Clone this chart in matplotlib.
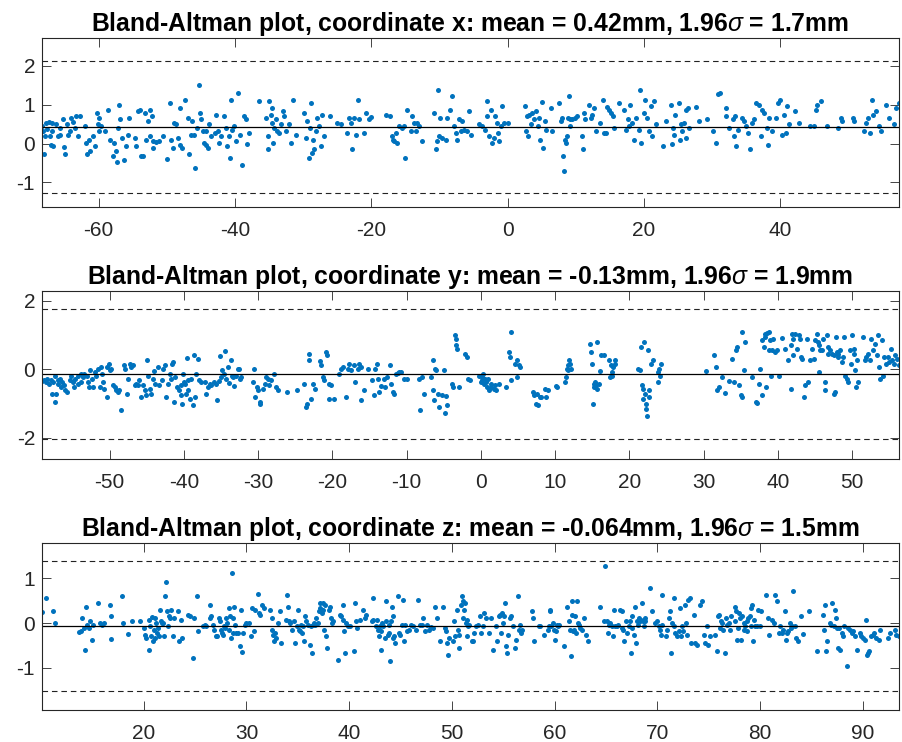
import matplotlib
matplotlib.use('Agg')
import matplotlib.pyplot as plt

plt.rcParams['font.family'] = ['Liberation Sans', 'DejaVu Sans']
plt.rcParams['mathtext.fontset'] = 'custom'
plt.rcParams['mathtext.rm'] = 'Liberation Sans'
plt.rcParams['mathtext.it'] = 'Liberation Sans:italic'
plt.rcParams['axes.unicode_minus'] = False

# ---- coordinate x ----
x1 = [-68.3, -68.0, -68.1, -67.9, -67.7, -67.5, -67.3, -67.2, -67.0, -66.9, -66.7, -66.8,
      -66.2, -66.0, -65.7, -65.6, -65.2, -65.1, -64.9, -64.7, -64.5, -64.2, -64.0, -63.8, -63.5, -63.3, -63.0, -62.8,
      -62.0, -61.9, -61.7, -61.4, -61.2, -60.8, -60.6, -60.3, -60.1, -59.95, -59.9, -59.6, -59.1,
      -58.6, -58.4, -57.9, -57.7, -57.5, -57.3, -57.2, -57.0, -56.8, -56.5, -56.3, -56.0, -55.7, -55.6,
      -54.7, -54.5, -54.2, -54.0, -53.8, -53.5, -53.2, -53.0, -52.8, -52.5, -52.4, -52.1, -52.0, -51.95, -51.6, -51.1,
      -50.6, -49.9, -49.6, -49.4, -49.1, -48.9, -48.6, -48.4, -48.1, -48.0, -47.8, -47.4,
      -46.9, -46.7, -46.5, -46.3, -45.95, -45.8, -45.6, -45.3, -45.2, -45.0, -44.7, -44.6, -44.3, -44.2,
      -44.0, -43.8, -43.5, -43.0, -42.8, -42.5, -42.3, -42.0, -41.6, -41.3, -41.2, -40.9, -40.8, -40.6, -40.4,
      -40.1, -39.9, -39.5, -39.3, -39.0, -38.6, -38.4, -38.2, -37.9,
      -36.4, -35.5, -35.2, -35.1, -35.0, -34.7, -34.6, -34.5, -34.4, -34.2, -34.0, -33.8, -33.5, -33.3, -33.0, -32.8, -32.5,
      -32.0, -31.8, -31.5, -31.1, -29.9, -29.6, -29.4, -29.2, -29.0, -28.9, -28.7, -28.6, -28.4, -28.1, -27.9, -27.7, -27.4, -27.2, -26.9,
      -26.0, -25.0, -24.5, -23.5, -23.3, -23.0, -22.8, -22.5, -22.3, -22.0, -21.8, -21.1, -20.8, -20.4, -20.1,
      -17.9, -17.2, -16.9, -16.8, -16.6, -16.4, -16.2, -16.0, -15.5, -15.2, -15.0, -14.7, -14.2, -14.0, -13.8,
      -13.5, -13.3, -13.0, -12.5, -10.8, -10.5, -10.3, -10.2, -10.0, -9.9, -9.6, -9.1, -8.9,
      -8.4, -8.1, -7.9, -7.6, -7.4, -7.1, -6.9, -6.7, -6.4, -5.9, -5.6, -5.4,
      -4.2, -3.7, -3.3, -3.1, -3.0, -2.7, -2.5, -2.3, -2.0, -1.8, -1.6, -1.4, -1.2, -1.0, -0.8, -0.5, 0.0,
      2.6, 2.7, 2.9, 3.0, 3.2, 3.4, 3.6, 3.9, 4.1, 4.4, 4.6, 4.8, 5.1, 5.2, 5.5, 5.7,
      6.3, 6.5, 7.5, 7.8, 8.0, 8.1, 8.3, 8.4, 8.5, 8.7, 8.9, 9.0, 9.1, 9.2, 9.5, 9.9, 10.2,
      10.9, 11.0, 11.2, 11.4, 11.9, 12.2, 12.4, 12.7, 12.9, 13.6, 14.0, 14.1, 14.4, 14.6, 14.9, 15.1, 15.4, 15.6, 16.3,
      17.1, 17.3, 17.6, 17.8, 18.0, 18.3, 18.5, 18.9, 19.2, 19.4, 19.5, 20.0, 20.2, 20.5, 20.7, 21.0, 21.2, 21.4, 21.7,
      22.8, 23.2, 23.9, 24.1, 24.2, 24.4, 24.6, 25.1, 25.3, 25.4, 25.6, 25.9, 26.1, 26.2, 26.4, 26.6, 27.7, 28.1, 29.3,
      30.1, 30.5, 30.8, 31.2, 32.0, 32.1, 32.5, 33.0, 33.2, 33.4, 33.5, 33.8,
      34.4, 34.7, 34.9, 35.2, 35.6, 35.9, 36.1, 36.5, 36.9, 37.1, 37.3, 37.6, 38.1, 38.2, 38.3,
      38.8, 39.3, 39.6, 40.0, 40.3, 40.5, 40.8, 41.0, 41.3, 42.2, 42.7,
      44.4, 44.9, 45.2, 45.4, 45.9, 46.9, 48.4, 48.9, 49.1,
      50.6, 50.8, 52.3, 52.5, 52.8, 53.1, 53.4, 53.6, 54.0, 54.5, 54.7, 55.5, 55.9, 56.7, 56.9, 57.4]
d1 = [0.44, -0.27, 0.32, 0.19, 0.53, 0.38, 0.55, 0.19, -0.03, 0.53, -0.07, 0.32,
      0.51, 0.19, 0.23, 0.40, 0.62, -0.09, -0.28, 0.49, 0.23, 0.32, 0.66, 0.55, 0.40, 0.70, 0.19, 0.70,
      0.46, 0.02, -0.28, 0.10, -0.20, 0.19, -0.07, 0.79, 0.49, 0.32, 0.66, 0.44, 0.32,
      0.85, 0.10, -0.32, 0.02, -0.20, -0.48, 0.40, 1.00, 0.62, 0.15, -0.41, -0.07, 0.23, 0.66,
      0.15, -0.07, 0.83, 0.87, -0.32, -0.32, 0.79, 0.10, 0.57, 0.19, 0.87, 0.70, -0.11, 0.06, 0.03, 0.06,
      0.19, -0.39, 1.04, 0.10, -0.11, 0.53, 0.49, 0.15, 0.91, -0.03, -0.11, 1.13,
      0.66, -0.28, 0.23, 0.57, 0.23, -0.62, 0.40, 1.51, 0.79, 0.62, 0.32, 0.02, -0.03, 0.32,
      -0.11, 0.49, 0.19, 0.27, 0.74, 0.32, 0.02, 0.19, 0.70, 0.40, -0.07, 0.19, -0.37, 1.13, 0.36,
      0.44, 0.06, 1.30, 0.23, -0.54, 0.70, 0.62, 0.0, 0.27,
      1.09, 0.66, 0.19, -0.15, 1.09, 0.74, 0.53, 0.91, 0.02, 0.40, 0.62, 0.32, 0.27, 0.49, 0.83, 0.70, 0.32,
      0.49, 0.02, 1.13, 0.23, 0.79, 0.15, 0.57, -0.37, 0.40, 1.04, -0.24, 0.10, -0.15, 0.32, 0.66, 0.44, -0.07, 0.74, 0.19,
      0.70, 0.53, 0.49, 0.27, 0.66, 0.53, -0.14, 0.66, 0.23, 1.13, 0.62, 0.27, 0.79, 0.62, 0.68,
      0.74, 0.70, 0.19, 0.10, 0.06, 0.27, 0.02, 0.44, 0.40, 0.46, -0.37, 0.87, 0.32, 0.70, 0.53,
      0.32, 0.53, 0.44, 0.06, 0.79, -0.15, 0.06, 1.38, 0.19, 0.66, 0.15, 0.10, 0.66,
      0.87, 1.21, 0.44, 0.27, 0.10, 0.62, 0.32, 0.57, 0.36, 0.32, 0.83, 0.23,
      0.49, 0.44, 0.36, 1.09, 0.70, 0.19, 0.87, 0.02, 0.15, 0.70, 0.53, 0.27, 0.06, 0.44, 0.96, 0.53, 0.53,
      0.97, 0.32, 0.70, 0.19, 0.74, 0.49, 0.79, 0.62, 0.83, 0.44, 0.66, 0.10, 1.06, -0.11, 0.57, 0.36,
      0.91, 0.32, 1.03, 0.57, 0.66, -0.32, -0.71, 0.10, 0.02, 0.19, 0.66, 1.21, 0.62, 0.44, 0.64, 0.66, 0.70,
      0.19, -0.15, 0.79, 0.62, 1.00, 0.66, 0.74, 0.91, 0.32, 0.53, 1.13, 0.27, 0.27, 0.94, 0.87, 0.79, 0.70, 0.40, 1.04,
      0.87, 0.36, 0.62, 0.44, 1.00, 0.53, 0.10, 0.66, 0.36, 1.38, 0.02, 0.79, 1.13, 0.66, 0.32, 0.96, 0.19, 1.10, 0.49,
      -0.07, 0.57, 1.00, 0.0, 0.40, 0.23, 0.74, 1.04, 0.10, 0.49, 0.32, 0.53, 0.87, 0.15, 0.91, 0.40, 0.94, 0.57, 0.64,
      0.32, 0.02, 1.26, 1.30, 0.91, 0.70, 0.40, 0.62, 0.19, 0.70, -0.07, 0.36,
      0.66, 0.57, 0.44, 0.27, -0.15, 0.53, 0.62, 1.04, 1.00, 0.19, 0.87, 0.79, 0.40, -0.03, 0.66,
      0.32, 0.66, 1.04, 1.13, 0.23, 0.74, 0.27, 0.96, 0.49, 0.83, 0.53,
      0.44, 0.44, 0.87, 1.00, 1.09, 0.46, 0.40, 0.66, 0.57,
      0.66, 0.57, 0.32, 0.53, 0.66, 0.27, 1.13, 0.74, 0.83, 0.44, 0.32, 1.00, 0.66, 0.49, 0.91, 1.04]

# ---- coordinate y ----
x2 = [-59.1, -58.8, -58.6, -58.4, -58.2, -57.9, -57.8, -57.6, -57.4, -57.3, -57.2, -57.0, -56.95, -56.7, -56.6, -56.4, -56.1, -56.05, -55.8,
      -55.4, -55.2, -54.9, -54.8, -54.6, -54.3, -54.2, -53.9, -53.8, -53.6, -53.4, -53.1, -52.9, -52.8, -52.6, -52.4, -52.2, -52.0,
      -51.8, -51.6, -51.3, -51.2, -51.0, -50.9, -50.7, -50.4, -50.3, -50.1, -50.0, -49.8, -49.6, -49.3, -49.1, -48.9, -48.7, -48.4,
      -48.1, -47.9, -47.6, -47.5, -47.3, -47.1, -46.9, -46.6, -46.4, -46.2, -46.1, -45.8, -45.5, -45.3, -45.1, -44.9, -44.8, -44.6,
      -44.4, -44.2, -44.0, -43.9, -43.5, -43.3, -43.0, -42.8, -42.6, -42.4, -42.2, -41.9, -41.7, -41.6, -41.5, -41.3, -41.2, -40.9,
      -40.6, -40.45, -40.4, -40.3, -40.1, -40.0, -39.8, -39.7, -39.6, -39.5, -39.4, -39.2, -39.0, -38.8, -38.7, -38.5, -38.3, -38.1, -37.9, -37.7,
      -37.2, -37.0, -36.8, -36.5, -36.3, -35.9, -35.7, -35.5, -35.3, -35.2, -35.0, -34.8, -34.6, -34.4, -34.3, -34.1, -33.9, -33.7, -33.5, -33.4, -33.2, -33.0, -32.7, -32.6, -32.4, -32.3,
      -30.7, -30.5, -30.4, -30.1, -30.0, -29.8, -29.7, -29.4, -29.1, -28.9, -28.7, -28.5, -28.3, -27.8, -27.6, -27.3,
      -26.1, -24.8, -23.8, -23.5, -23.4, -23.2, -23.1, -22.9, -22.6, -22.4, -21.7, -21.5, -21.3, -21.1, -20.9, -20.7, -20.5, -20.4, -20.2, -19.8,
      -19.1, -18.8, -18.6, -18.2, -17.9, -17.7, -17.5, -17.1, -17.0, -16.6, -16.4, -16.2, -16.1, -15.8, -15.2,
      -14.6, -14.4, -14.2, -14.0, -13.9, -13.7, -13.5, -13.1, -12.9, -12.6, -12.3, -12.1, -11.9, -11.7, -11.4, -11.2, -11.0, -10.8, -10.3, -9.9,
      -8.3, -8.2, -7.9, -7.7, -6.7, -6.5, -6.4, -6.3, -6.2, -6.1, -5.8, -5.7, -5.2, -5.0, -4.8, -4.7, -4.5,
      -3.9, -3.7, -3.5, -3.4, -3.3, -3.2, -3.0, -2.1, -1.9, -1.7, -1.4,
      -0.2, 0.0, 0.1, 0.2, 0.3, 0.4, 0.5, 0.7, 0.8, 1.0, 1.1, 1.3, 1.4, 1.7, 1.9, 2.1, 2.5,
      3.4, 3.8, 3.9, 4.0, 4.1, 4.6, 4.8, 4.9, 5.1, 5.3,
      7.0, 7.2, 7.4, 7.6, 7.7, 7.9, 8.1, 8.6, 8.8, 9.0,
      10.1, 10.2, 11.3, 11.5, 11.6, 11.7, 11.8, 11.9, 12.0, 12.2,
      14.7, 14.8, 15.0, 15.1, 15.2, 15.3, 15.4, 15.5, 15.6, 15.7, 15.9, 16.0, 16.2, 16.6, 17.3, 17.4, 17.5, 17.65, 17.7, 17.8, 18.0, 18.1,
      21.1, 21.4, 21.5, 21.7, 21.8, 21.9, 22.0, 22.1, 22.2, 22.3, 22.4, 22.5, 22.6, 22.7, 22.9, 23.2, 23.8, 23.9, 24.0, 24.1, 24.2,
      30.3, 31.4, 31.6, 31.8, 32.1, 32.5, 32.9, 33.4, 33.8, 34.1, 34.3, 34.5, 34.7, 35.0, 35.1, 35.2, 35.4, 35.6,
      36.5, 37.0, 37.2, 37.4, 37.6, 37.8, 37.9, 38.1, 38.2, 38.3, 38.4, 38.5, 38.75, 38.8, 39.0, 39.1, 39.2, 39.4, 39.6, 39.9, 40.1, 40.5,
      41.0, 41.4, 41.7, 41.8, 41.9, 42.0, 42.1, 42.3, 42.6, 42.8, 43.0, 43.1, 43.3, 43.5, 43.7, 43.9, 44.1, 44.3, 44.6, 44.8, 45.0,
      45.2, 45.4, 45.5, 45.6, 45.7, 45.9, 46.1, 46.3, 46.4, 46.6, 46.7, 46.8, 47.0, 47.3, 47.5, 47.6, 47.7, 47.8, 47.9, 48.05, 48.1, 48.4, 48.6, 48.8, 48.9, 49.0, 49.3, 49.4,
      49.7, 49.9, 50.0, 50.2, 50.3, 50.4, 50.5, 50.6, 50.8, 51.5, 51.7, 51.9, 52.1, 52.4, 52.6, 52.8, 53.1, 53.3, 53.5, 53.6, 53.7, 54.0, 54.2, 54.3, 54.5, 54.8, 54.9, 55.2, 55.4, 55.7, 55.8, 56.1, 56.3]
d2 = [-0.34, -0.32, -0.37, -0.27, -0.42, -0.30, -0.71, -0.37, -0.20, -0.96, -0.71, -0.32, -0.42, -0.27, -0.52, -0.37, -0.47, -0.61, -0.66,
      -0.32, -0.20, -0.37, -0.52, -0.27, -0.42, -0.18, -0.37, -0.13, -0.22, -0.13, -0.18, -0.37, -0.52, -0.03, -0.27, -0.52, -0.08,
      -0.18, 0.02, -0.52, 0.07, -0.13, -0.37, -0.57, -0.81, 0.07, 0.17, -0.03, 0.02, -0.47, -0.52, -0.61, -0.66, -0.61, -1.18,
      0.12, 0.02, -0.71, -0.27, 0.17, 0.07, 0.12, -0.47, -0.42, -0.47, -0.32, -0.81, -0.47, -0.61, -0.76, 0.28, -0.20, -0.57,
      -0.71, -0.27, -0.05, -0.42, 0.07, -0.47, -0.32, 0.02, 0.12, -0.81, -0.42, -0.13, -0.27, 0.17, 0.21, -0.96, -0.22, -0.52,
      -0.61, -0.47, -0.76, -1.00, -0.13, -0.37, -0.42, -0.71, 0.34, -0.32, -0.61, -0.86, -0.27, -1.05, 0.41, -0.81, -0.13, 0.31, -0.32, -0.37,
      -0.37, -0.71, -0.52, -0.42, -0.47, -0.37, -0.42, -0.91, -0.34, 0.38, -0.22, -0.03, -0.13, 0.54, -0.27, 0.07, -0.40, 0.28, -0.18, -0.22, -0.50, -0.18, 0.02, 0.02, -0.27, -0.22,
      -0.37, 0.02, -0.81, -0.52, -0.61, -0.96, -1.00, -0.57, -0.42, -0.22, -0.27, -0.47, -0.32, -0.13, -0.52, -0.59,
      -0.66, -0.61, -0.42, -1.10, -1.00, 0.26, 0.44, -0.86, -0.42, -0.57, 0.24, 0.12, -0.22, -0.32, 0.51, 0.41, -0.42, -0.86, -0.47, -0.86,
      -0.13, 0.02, 0.07, -0.81, 0.02, 0.17, -0.03, 0.12, -0.37, 0.02, 0.17, -0.91, 0.07, -0.61, 0.02,
      -0.32, -0.76, 0.02, 0.17, -0.27, -0.66, -0.50, -0.27, -0.52, -0.22, 0.12, -0.42, -0.66, -0.71, -0.13, -0.11, -0.08, -0.08, -0.27, -0.27,
      -0.27, -1.20, -0.22, -0.71, -0.22, 0.26, -0.61, -0.91, 0.02, -0.03, -0.71, -1.10, -0.76, -0.03, -1.28, -0.79, -1.05,
      -0.42, -0.52, 1.00, 0.90, 0.70, 0.60, -0.52, 0.46, 0.36, -0.27, -0.32,
      -0.18, -0.37, -0.22, -0.32, -0.15, -0.42, -0.27, -0.37, -0.52, -0.27, -0.61, -0.42, -0.52, -0.57, -0.47, -0.61, -0.42,
      -0.52, 0.51, 0.36, 1.09, -0.32, 0.17, -0.22, 0.26, 0.12, 0.07,
      -0.66, -0.76, -1.00, -0.71, -1.05, -0.81, -0.81, -0.57, -0.81, -0.61,
      -0.50, -0.52, -0.37, -0.22, 0.02, 0.12, -0.03, 0.26, 0.17, 0.02,
      0.75, 0.51, 0.17, -1.00, -0.42, -0.52, -0.37, -0.47, -0.57, 0.80, -0.42, -0.05, 0.41, 0.41, 0.26, -0.22, 0.12, -0.08, -0.18, 0.07, 0.17, 0.26,
      0.02, -0.03, 0.65, -0.47, -0.57, -0.86, 0.80, -0.71, -1.15, -1.00, -1.35, 0.56, -0.61, -0.81, 0.17, 0.26, -0.08, -0.37, 0.02, -0.18, 0.17,
      -0.05, 0.41, 0.07, -0.61, -0.52, -0.22, -0.69, -0.34, 0.31, -0.37, 0.56, 0.65, -0.47, -0.76, -0.81, 1.09, -0.03, 0.80,
      -0.22, -0.96, -0.99, -0.42, 0.02, -0.76, 0.85, 0.65, 1.04, 0.95, -0.52, 1.06, 0.56, 1.09, 0.85, -0.18, 0.56, 0.90, 0.51, 0.56, -0.18, 0.93,
      0.60, 0.26, -0.57, 0.70, 1.04, 0.90, 0.41, 1.04, 0.60, 1.00, 0.90, 0.36, 0.31, -0.81, -0.47, 0.90, -0.37, 0.26, 0.60, 0.31, 0.85,
      1.04, 0.80, -0.08, 0.70, 0.56, 0.56, 0.90, -0.61, -0.37, 1.00, 0.46, 0.65, 0.56, 0.46, -0.71, 0.41, -0.66, 0.95, 0.51, 0.36, 0.46, 0.56, 0.21, 0.36, 0.95, -0.18, -0.27, -0.37,
      0.56, 0.17, 1.00, 0.60, 0.46, -0.03, -0.52, 0.26, -0.37, 0.95, 0.26, 0.36, 0.46, 0.26, 0.90, 0.56, 0.75, 0.41, 1.00, 0.07, -0.27, 0.85, -0.18, 0.36, 0.17, 0.36, 0.21, 0.60, 0.26, 0.17, 0.41, 0.31, 0.12]

# ---- coordinate z ----
x3 = [10.1, 10.5, 11.2, 11.4,
      13.7, 13.9, 14.0, 14.2, 14.3, 14.4, 14.5, 14.7, 14.8, 15.0, 15.1, 15.5, 15.7, 15.9, 16.1,
      16.7, 16.8, 16.85, 17.9, 18.0, 18.5, 18.9, 19.6,
      20.0, 20.1, 20.2, 20.5, 20.55, 20.6, 20.7, 20.8, 20.9, 21.0, 21.05, 21.1, 21.2, 21.3, 21.4, 21.5, 21.6, 21.7, 21.8, 21.9, 21.95, 22.1, 22.2, 22.3, 22.4, 22.45, 22.6, 22.7, 22.8, 22.9,
      23.3, 23.4, 23.6, 23.7, 24.3, 24.5, 24.8, 24.9, 25.2, 25.3, 25.8, 26.0, 26.1,
      26.4, 26.45, 26.5, 26.7, 26.8, 27.0, 27.1, 27.3, 27.4, 27.5, 27.6, 27.7, 27.8, 27.9, 28.0, 28.1, 28.25, 28.3, 28.4, 28.5, 28.6, 28.65, 28.7, 28.8, 28.9, 29.0, 29.2, 29.4, 29.45,
      29.6, 29.7, 29.9, 30.0, 30.2, 30.4, 30.5, 30.7, 30.8, 31.1, 31.2, 31.3, 31.5, 31.7,
      32.3, 32.45, 32.5, 32.6, 32.7, 32.8, 32.9, 33.1, 33.3, 33.4, 33.8, 33.9, 34.0, 34.1, 34.2, 34.4, 34.6,
      34.7, 34.9, 35.0, 35.1, 35.2, 35.3, 35.4, 35.5, 35.6, 35.7, 35.8, 36.0, 36.2, 36.3, 36.4, 36.5, 36.6, 36.7, 36.8, 37.0, 37.1, 37.15,
      37.2, 37.3, 37.4, 37.45, 37.5, 37.6, 37.7, 37.8, 38.0, 38.1, 38.2, 38.3, 38.4, 38.9, 39.1, 39.2, 39.35, 39.4, 39.5, 39.6, 39.7, 39.9, 40.1, 40.5,
      40.6, 40.65, 40.8, 41.0, 41.3, 41.5, 41.6, 42.2, 42.3, 42.35, 42.6, 42.7, 42.8, 42.9, 43.0, 43.05, 43.1, 43.2, 43.3, 43.5, 43.55, 43.6,
      43.8, 43.85, 43.9, 44.0, 44.1, 44.2, 44.25, 44.3, 44.4, 44.5, 44.7, 44.8, 44.9, 45.1, 45.2, 45.3, 45.4, 45.6, 45.8, 46.0, 46.2, 46.5, 46.7,
      46.9, 47.1, 47.2, 47.4, 47.6, 47.8, 48.0, 48.2, 48.3, 48.5, 48.8, 49.1, 49.3, 49.4, 49.5, 49.6, 49.75,
      50.1, 50.2, 50.3, 50.5, 50.6, 50.65, 50.7, 50.9, 51.0, 51.05, 51.1, 51.2, 51.3, 51.4, 51.45, 51.5, 51.6, 51.7, 51.9, 52.0, 52.1, 52.3, 52.5, 52.7, 52.8, 53.0,
      53.1, 53.3, 53.6, 53.8, 54.0, 54.3, 54.4, 54.6, 54.7, 54.8, 54.9, 54.95, 55.1, 55.2, 55.25, 55.4, 55.5, 55.6, 55.7, 55.9, 56.1, 56.2, 56.4, 56.5, 56.6, 56.7, 56.8,
      57.8, 57.9, 58.0, 58.5, 58.6, 59.0, 59.3, 59.4, 59.5, 59.55, 59.6, 59.8, 59.9, 60.0, 60.1,
      60.2, 60.3, 60.4, 60.9, 61.2, 61.4, 61.5, 61.6, 61.65, 61.7, 61.8, 61.9, 62.0, 62.05, 62.2, 62.3, 62.4, 62.5, 62.7, 62.8, 63.0, 63.2,
      64.4, 64.8, 64.9, 65.1, 65.2, 65.3, 65.4, 65.6, 65.7, 65.8, 65.9, 66.1, 66.2, 66.4, 66.5, 66.55, 66.6, 66.7, 66.9, 67.0, 67.2, 67.3, 67.4, 67.5, 67.55, 67.7, 67.8, 67.9,
      68.0, 68.15, 68.2, 68.3, 68.4, 68.5, 68.6, 68.7, 68.75, 68.8, 69.3, 69.5, 69.8, 70.0, 70.1, 70.2, 70.3, 70.4, 70.45,
      70.8, 70.9, 71.1, 71.25, 71.3, 71.4, 71.6, 71.65, 71.7, 71.9, 72.1, 72.2, 72.3, 72.4, 72.5, 72.7, 72.8, 72.9, 73.0, 73.2, 73.3, 73.6, 73.7, 73.8, 74.1, 74.3,
      74.5, 74.6, 74.8, 74.9, 75.1, 75.6, 75.8, 75.9, 76.0, 76.1, 76.2, 76.3, 76.4, 76.6, 76.7, 76.8, 77.0, 77.1, 77.2,
      77.5, 77.55, 77.6, 77.7, 77.8, 77.9, 78.0, 78.1, 78.2, 78.4, 78.45, 78.5, 78.7, 78.75, 78.8, 79.0, 79.1, 79.15, 79.2, 79.3, 79.4, 79.5, 79.7, 79.8, 80.0, 80.1,
      80.6, 80.8, 80.9, 81.1, 81.3, 81.4, 81.6, 81.8, 81.9, 82.1, 82.2, 82.4, 82.5, 82.6, 82.7, 82.9, 83.0, 83.1, 83.2, 83.4, 83.5, 83.7, 84.0, 84.2,
      84.7, 85.5, 86.1, 86.2, 86.3, 86.4, 86.5, 86.8, 86.9, 87.0, 87.2, 87.3, 87.35, 87.5, 87.6, 87.7, 87.8, 88.0, 88.1, 88.2, 88.4, 88.5,
      88.7, 88.9, 89.0, 89.2, 89.4, 89.7, 89.8, 90.0, 90.2, 90.3, 90.4, 90.5, 90.6, 90.8, 91.0, 91.1, 91.3, 91.6, 91.7, 92.4, 92.6, 93.1, 93.2, 93.5]
d3 = [0.24, 0.56, 0.26, -0.01,
      -0.21, -0.19, 0.11, -0.11, -0.60, 0.36, -0.04, -0.11, 0.04, -0.37, -0.04, 0.45, 0.0, -0.04, 0.0,
      0.41, -0.36, 0.15, 0.60, 0.0, -0.24, 0.04, 0.04,
      -0.11, -0.26, -0.34, 0.07, -0.60, -0.07, -0.30, 0.13, -0.41, -0.15, 0.11, -0.34, 0.0, -0.22, -0.11, -0.30, 0.30, 0.04, 0.0, 0.0, -0.28, 0.60, 0.93, 0.26, -0.07, 0.15, 0.11, 0.30, -0.30, 0.11,
      0.26, -0.41, 0.07, -0.34, 0.19, 0.15, -0.78, 0.11, 0.61, -0.19, -0.07, -0.04, -0.07,
      0.40, 0.11, 0.15, -0.04, -0.15, -0.30, -0.30, 0.11, 0.04, -0.15, -0.22, -0.26, -0.07, -0.11, 0.11, 0.0, 0.34, -0.15, 0.15, -0.34, 1.12, 0.11, -0.22, 0.37, -0.04, -0.22, -0.22, -0.52, 0.30,
      -0.66, -0.22, -0.04, 0.0, 0.0, -0.30, 0.34, -0.19, 0.30, 0.66, 0.22, 0.19, 0.41, 0.34,
      0.30, 0.11, -0.15, -0.26, -0.41, -0.22, -0.34, 0.0, 0.26, -0.45, 0.07, 0.63, 0.37, 0.04, 0.0, -0.15, 0.04,
      -0.45, -0.07, 0.30, -0.15, -0.19, -0.04, -0.22, -0.07, -0.41, 0.15, 0.04, -0.04, -0.49, -0.07, -0.67, -0.04, 0.0, -0.04, 0.11, 0.0, 0.26, 0.45,
      0.34, 0.22, 0.45, 0.30, -0.15, 0.41, -0.30, -0.56, 0.30, 0.37, 0.11, 0.0, 0.04, -0.82, 0.19, 0.15, 0.07, 0.41, -0.19, -0.67, 0.0, -0.07, -0.07, -0.63,
      0.45, 0.04, -0.11, 0.07, 0.30, 0.11, 0.19, 0.04, 0.56, 0.07, -0.07, 0.07, -0.15, -0.30, -0.07, -0.60, -0.19, 0.0, -0.07, -0.34, 0.04, 0.49,
      -0.26, -0.04, -0.22, -0.86, 0.04, 0.37, -0.34, 0.15, -0.30, -0.45, 0.60, -0.22, -0.26, -0.04, 0.52, -0.41, -0.04, -0.19, -0.15, -0.04, -0.07, -0.15, 0.52,
      -0.04, -0.04, 0.11, -0.19, -0.04, -0.15, -0.09, -0.11, 0.37, 0.11, -0.41, 0.37, -0.11, -0.19, -0.45, -0.71, -0.34,
      -0.41, 0.04, -0.30, 0.30, -0.15, -0.56, -0.26, 0.41, 0.61, 0.11, 0.49, 0.30, 0.45, 0.0, 0.07, -0.30, -0.07, -0.04, -0.41, -0.41, -0.22, -0.07, -0.04, 0.15, -0.22, -0.07,
      0.22, 0.11, -0.22, 0.11, -0.60, -0.07, -0.41, 0.15, 0.19, -0.22, 0.22, 0.0, 0.15, 0.45, -0.52, -0.67, -0.26, 0.11, 0.15, -0.07, -0.56, -0.37, 0.60, -0.15, -0.04, -0.22, -0.15,
      0.26, 0.11, -0.41, -0.07, -0.07, -0.26, -0.15, -0.07, 0.30, 0.26, -0.07, 0.0, -0.15, -0.37, -0.19,
      -0.04, -0.07, -0.04, -0.52, 0.37, 0.04, -0.15, -0.75, 0.19, 0.49, -0.19, -0.15, 0.15, -0.22, 0.49, 0.0, -0.04, -0.11, -0.15, 0.11, -0.26, -0.41,
      0.37, 0.04, 1.27, 0.04, -0.22, -0.04, 0.0, -0.07, -0.30, 0.30, -0.07, -0.07, -0.04, 0.30, 0.26, -0.11, -0.15, -0.41, 0.04, -0.22, -0.07, 0.04, -0.67, -0.11, 0.15, -0.26, 0.37, -0.45,
      0.04, -0.04, 0.11, 0.04, 0.07, 0.45, 0.04, -0.07, 0.11, 0.04, 0.78, 0.26, 0.0, 0.04, -0.07, -0.15, -0.26, 0.63, -0.04,
      -0.30, -0.15, 0.11, 0.26, -0.67, 0.0, -0.07, 0.56, -0.22, -0.30, -0.19, 0.34, -0.30, -0.07, -0.19, 0.41, 0.0, -0.26, 0.52, 0.56, -0.45, 0.19, -0.45, -0.49, 0.41, 0.49,
      -0.26, -0.45, -0.07, -0.49, -0.30, -0.26, -0.63, 0.15, 0.19, -0.11, 0.04, 0.0, -0.15, -0.67, 0.11, -0.04, 0.0, -0.15, 0.15,
      0.04, 0.37, 0.26, -0.37, -0.11, 0.22, 0.11, -0.37, 0.15, 0.0, -0.15, -0.07, 0.04, -0.19, 0.11, 0.15, -0.07, 0.34, 0.41, -0.41, 0.07, -0.07, -0.07, 0.30, -0.07, 0.26,
      0.63, 0.11, -0.26, 0.07, 0.0, 0.63, 0.49, -0.22, -0.07, -0.22, -0.15, 0.26, -0.37, -0.22, -0.19, 0.0, -0.11, -0.07, 0.71, -0.07, -0.34, -0.41, 0.15, -0.24,
      0.26, -0.63, 0.19, -0.15, 0.41, -0.63, -0.41, 0.0, -0.04, 0.45, -0.07, 0.30, 0.11, -0.11, -0.56, -0.11, -0.60, -0.22, -0.30, -0.07, -0.97, -0.11,
      -0.15, -0.22, -0.19, -0.30, -0.60, -0.22, -0.30, -0.34, -0.37, 0.07, -0.71, -0.67, -0.63, -0.30, -0.26, -0.22, -0.34, -0.37, -0.15, -0.34, -0.22, -0.15, -0.26, -0.30]

coords = ['x', 'y', 'z']
means = [0.42, -0.13, -0.064]
spreads = [1.69, 1.9, 1.46]
spread_labels = ['1.7', '1.9', '1.5']
mean_labels = ['0.42', '-0.13', '-0.064']
ylims = [(-1.63, 2.71), (-2.63, 2.30), (-1.95, 1.80)]
yticks = [[-1, 0, 1, 2], [-2, 0, 2], [-1, 0, 1]]
xticks = [[-60, -40, -20, 0, 20, 40],
          [-50, -40, -30, -20, -10, 0, 10, 20, 30, 40, 50],
          [20, 30, 40, 50, 60, 70, 80, 90]]
xs = [x1, x2, x3]
ds = [d1, d2, d3]

fig = plt.figure(figsize=(9.02, 7.42), dpi=100)
boxes = [[0.0466, 0.721, 0.950, 0.2278],
         [0.0466, 0.381, 0.950, 0.2272],
         [0.0466, 0.0431, 0.950, 0.2255]]

for i in range(3):
    assert len(xs[i]) == len(ds[i]), (i, len(xs[i]), len(ds[i]))
    ax = fig.add_axes(boxes[i])
    ax.plot(xs[i], ds[i], 'o', ms=3.6, color='#0072BD', mec='none')
    ax.axhline(means[i], color='black', lw=0.9)
    ax.axhline(means[i] + spreads[i], color='#222222', lw=0.8, ls=(0, (5, 3.5)))
    ax.axhline(means[i] - spreads[i], color='#222222', lw=0.8, ls=(0, (5, 3.5)))
    ax.set_xlim(min(xs[i]), max(xs[i]))
    ax.set_ylim(*ylims[i])
    ax.set_xticks(xticks[i])
    ax.set_yticks(yticks[i])
    ax.tick_params(direction='in', length=6.5, width=0.6, top=True, right=True,
                   labelsize=15, colors='#262626')
    ax.tick_params(axis='x', pad=10)
    ax.tick_params(axis='y', pad=5)
    for s in ax.spines.values():
        s.set_color('#262626')
        s.set_linewidth(0.8)
    ax.set_title('Bland-Altman plot, coordinate %s: mean = %smm, 1.96$\\sigma$ = %smm'
                 % (coords[i], mean_labels[i], spread_labels[i]),
                 fontsize=17.8, fontweight='bold', pad=5)

fig.savefig('out.png', dpi=100)
